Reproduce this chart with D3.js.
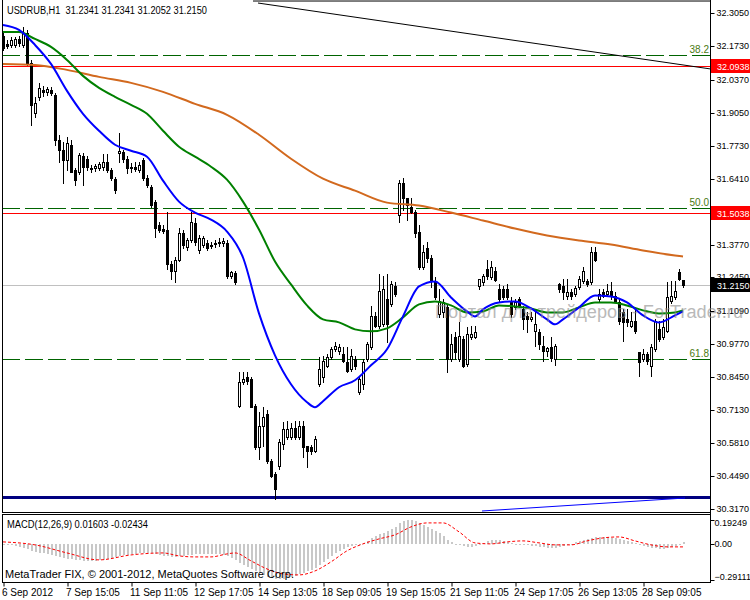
<!DOCTYPE html>
<html><head><meta charset="utf-8">
<script src="https://cdn.jsdelivr.net/npm/d3@7"></script>
<style>body{margin:0;background:#fff}svg{display:block}text{font-family:"Liberation Sans",Arial,sans-serif}</style>
</head><body><svg id="c" width="750" height="600"></svg>
<script>
// ---------- DATA ----------
const opens=[32.213,32.181,32.177,32.177,32.201,32.177,32.225,32.105,31.905,31.969,
31.997,31.989,31.997,31.977,31.797,31.757,31.717,31.777,31.677,31.669,
31.733,31.721,31.685,31.685,31.685,31.689,31.709,31.677,31.641,31.745,
31.749,31.721,31.685,31.689,31.677,31.717,31.645,31.609,31.549,31.457,
31.441,31.437,31.297,31.269,31.317,31.425,31.369,31.397,31.465,31.357,
31.377,31.385,31.373,31.381,31.385,31.385,31.385,31.249,31.261,30.729,
30.825,30.845,30.837,30.729,30.565,30.649,30.697,30.509,30.457,30.489,
30.577,30.605,30.605,30.641,30.605,30.649,30.569,30.565,30.549,30.817,
30.845,30.889,30.925,30.957,30.949,30.937,30.905,30.877,30.917,30.785,
30.817,30.917,30.965,31.089,31.049,31.057,31.157,31.137,31.209,31.497,
31.625,31.565,31.529,31.509,31.429,31.285,31.365,31.325,31.229,31.097,
31.105,31.125,30.917,31.005,30.917,30.997,30.897,31.005,31.005,31.209,
31.225,31.277,31.245,31.269,31.197,31.197,31.197,31.149,31.125,31.157,
31.117,31.089,31.077,31.029,31.025,30.969,30.949,30.965,30.917,31.217,
31.209,31.169,31.185,31.177,31.205,31.229,31.229,31.225,31.349,31.157,
31.185,31.177,31.189,31.169,31.145,31.105,31.077,31.049,31.069,30.945,
30.917,30.937,30.889,30.957,31.037,31.005,31.029,31.149,31.165,31.265,
31.2341];
const highs=[32.225,32.197,32.209,32.209,32.213,32.249,32.237,32.117,31.969,32.025,
32.013,32.009,32.009,31.985,31.817,31.789,31.809,31.797,31.685,31.745,
31.745,31.733,31.697,31.701,31.709,31.741,31.741,31.685,31.649,31.825,
31.757,31.733,31.705,31.709,31.709,31.725,31.657,31.617,31.557,31.469,
31.457,31.509,31.309,31.329,31.445,31.437,31.405,31.509,31.485,31.417,
31.413,31.397,31.389,31.397,31.405,31.405,31.397,31.269,31.269,30.865,
30.865,30.865,30.845,30.737,30.705,30.725,30.713,30.517,30.465,30.597,
30.665,30.669,30.661,30.669,30.669,30.669,30.569,30.573,30.609,30.925,
30.929,30.937,30.965,30.985,30.977,30.965,30.965,30.957,30.929,30.845,
30.917,30.985,31.129,31.105,31.257,31.249,31.257,31.229,31.225,31.637,
31.645,31.565,31.565,31.517,31.457,31.377,31.389,31.337,31.245,31.197,
31.157,31.137,31.017,31.025,31.065,31.009,31.045,31.049,31.049,31.237,
31.257,31.317,31.309,31.285,31.217,31.209,31.217,31.165,31.157,31.165,
31.129,31.105,31.105,31.105,31.037,31.009,30.965,31.005,30.977,31.221,
31.237,31.237,31.197,31.209,31.249,31.285,31.237,31.369,31.369,31.197,
31.197,31.217,31.225,31.185,31.157,31.117,31.117,31.105,31.117,30.945,
30.957,30.945,30.977,31.077,31.069,31.077,31.225,31.229,31.229,31.277,
31.2341];
const lows=[32.157,32.165,32.169,32.169,32.173,32.169,32.097,31.857,31.889,31.957,
31.973,31.977,31.977,31.777,31.709,31.625,31.677,31.669,31.617,31.661,
31.617,31.677,31.669,31.673,31.677,31.677,31.669,31.637,31.585,31.709,
31.709,31.665,31.669,31.673,31.669,31.637,31.609,31.529,31.409,31.429,
31.425,31.277,31.237,31.225,31.309,31.365,31.357,31.389,31.377,31.345,
31.369,31.357,31.365,31.369,31.373,31.373,31.241,31.241,31.217,30.725,
30.817,30.817,30.725,30.557,30.517,30.569,30.501,30.445,30.357,30.477,
30.557,30.597,30.597,30.597,30.597,30.525,30.485,30.537,30.545,30.809,
30.825,30.885,30.917,30.949,30.937,30.905,30.865,30.869,30.877,30.777,
30.797,30.909,30.957,31.045,31.041,31.049,30.985,31.129,31.169,31.469,
31.517,31.477,31.505,31.409,31.277,31.277,31.305,31.205,31.157,31.085,
31.085,30.865,30.909,30.917,30.909,30.885,30.889,30.997,31.001,31.197,
31.213,31.237,31.237,31.229,31.149,31.157,31.157,31.085,31.117,31.125,
31.037,31.025,31.069,30.969,30.957,30.909,30.929,30.909,30.893,31.185,
31.157,31.157,31.157,31.169,31.197,31.221,31.209,31.217,31.309,31.145,
31.165,31.169,31.157,31.145,31.057,30.989,31.049,31.045,31.021,30.849,
30.909,30.897,30.849,30.949,30.989,30.997,31.025,31.141,31.157,31.233,
31.2052];
const closes=[32.165,32.173,32.197,32.201,32.185,32.225,32.105,31.937,31.945,32.005,
31.989,32.001,31.985,31.797,31.757,31.717,31.785,31.669,31.637,31.737,
31.689,31.689,31.681,31.693,31.701,31.709,31.677,31.645,31.597,31.753,
31.721,31.685,31.689,31.681,31.697,31.645,31.617,31.537,31.445,31.437,
31.433,31.297,31.269,31.317,31.425,31.377,31.397,31.469,31.389,31.405,
31.405,31.365,31.377,31.385,31.389,31.393,31.249,31.265,31.225,30.825,
30.837,30.829,30.725,30.565,30.649,30.685,30.509,30.449,30.397,30.585,
30.637,30.637,30.641,30.605,30.649,30.565,30.549,30.549,30.597,30.877,
30.909,30.925,30.957,30.969,30.965,30.909,30.869,30.929,30.889,30.837,
30.905,30.977,31.089,31.049,31.189,31.197,31.057,31.217,31.177,31.625,
31.565,31.537,31.509,31.425,31.285,31.349,31.325,31.229,31.165,31.149,
31.145,30.917,30.977,30.945,31.009,30.889,31.017,31.017,31.025,31.237,
31.249,31.249,31.285,31.233,31.157,31.165,31.165,31.097,31.145,31.129,
31.077,31.077,31.085,31.057,30.977,30.949,30.961,30.921,30.969,31.197,
31.185,31.185,31.169,31.201,31.237,31.269,31.217,31.349,31.317,31.177,
31.169,31.189,31.169,31.149,31.069,31.065,31.065,31.069,31.029,30.905,
30.937,30.909,30.965,31.069,30.997,31.045,31.165,31.169,31.189,31.237,
31.2150];

const blueIdx=[0,4,8,12,16,20,24,28,32,36,40,44,48,52,56,60,64,68,72,76,78,80,84,88,92,96,100,104,108,112,116,118,120,124,128,132,136,138,140,144,148,152,156,160,164,168,170];
const blueVal=[32.257,32.237,32.177,32.101,31.993,31.901,31.833,31.777,31.753,31.729,31.633,31.549,31.505,31.477,31.429,31.325,31.101,30.933,30.817,30.745,30.725,30.749,30.805,30.833,30.893,30.957,31.089,31.209,31.229,31.165,31.109,31.089,31.117,31.145,31.149,31.121,31.077,31.057,31.077,31.125,31.173,31.169,31.145,31.093,31.065,31.093,31.109];
const greenIdx=[0,4,8,12,16,20,24,28,32,36,40,44,48,52,56,60,64,68,72,76,80,84,88,92,96,100,104,108,112,116,120,124,128,132,136,140,144,148,152,156,160,164,168,170];
const greenVal=[32.229,32.229,32.201,32.169,32.117,32.053,32.005,31.969,31.937,31.901,31.833,31.769,31.729,31.689,31.637,31.549,31.437,31.309,31.217,31.133,31.077,31.065,31.037,31.029,31.041,31.085,31.137,31.149,31.133,31.105,31.109,31.133,31.129,31.121,31.105,31.105,31.125,31.145,31.145,31.133,31.113,31.101,31.105,31.113];
const orangeIdx=[0,8,16,24,32,40,48,56,64,72,80,88,96,104,112,120,128,136,144,152,160,168,170];
const orangeVal=[32.101,32.097,32.077,32.049,32.025,31.989,31.941,31.897,31.817,31.721,31.641,31.593,31.545,31.533,31.505,31.473,31.441,31.413,31.393,31.377,31.353,31.333,31.329];

const macdHist=[-0.005,-0.008,-0.010,-0.015,-0.024,-0.032,-0.040,-0.056,-0.065,-0.073,
-0.075,-0.081,-0.089,-0.097,-0.105,-0.113,-0.121,-0.123,-0.129,-0.131,
-0.137,-0.138,-0.139,-0.137,-0.131,-0.128,-0.121,-0.113,-0.105,-0.097,
-0.089,-0.090,-0.081,-0.080,-0.073,-0.072,-0.073,-0.075,-0.081,-0.089,
-0.097,-0.099,-0.105,-0.106,-0.097,-0.096,-0.089,-0.087,-0.081,-0.080,
-0.081,-0.082,-0.081,-0.082,-0.083,-0.089,-0.097,-0.113,-0.129,-0.153,
-0.169,-0.185,-0.202,-0.218,-0.234,-0.250,-0.266,-0.274,-0.282,-0.285,
-0.283,-0.276,-0.266,-0.258,-0.242,-0.234,-0.218,-0.210,-0.194,-0.169,
-0.145,-0.121,-0.097,-0.073,-0.056,-0.040,-0.024,-0.016,-0.008,0.000,
0.008,0.024,0.048,0.065,0.081,0.089,0.105,0.121,0.137,0.169,
0.185,0.192,0.190,0.183,0.169,0.153,0.137,0.121,0.105,0.089,
0.065,0.032,0.016,0.000,-0.008,-0.016,-0.024,-0.025,-0.016,0.000,
0.008,0.024,0.032,0.033,0.031,0.024,0.016,0.008,0.000,-0.002,
-0.008,-0.010,-0.016,-0.018,-0.024,-0.025,-0.032,-0.034,-0.032,-0.024,
-0.016,-0.008,0.000,0.016,0.024,0.032,0.040,0.048,0.056,0.057,
0.055,0.054,0.048,0.046,0.040,0.032,0.024,0.016,0.008,-0.008,
-0.016,-0.024,-0.032,-0.034,-0.040,-0.041,-0.032,-0.024,-0.016,0.000,
0.01603];
const sigIdx=[0,8,16,24,32,40,44,48,52,56,58,62,66,70,74,78,82,86,90,94,98,102,106,110,114,118,122,126,130,134,138,142,146,150,154,158,162,166,170];
const sigVal=[0.016,-0.008,-0.073,-0.129,-0.089,-0.073,-0.097,-0.105,-0.105,-0.081,-0.073,-0.137,-0.202,-0.242,-0.250,-0.218,-0.145,-0.056,0.000,0.040,0.073,0.137,0.169,0.169,0.097,0.008,0.000,0.016,0.024,0.008,-0.008,-0.008,0.024,0.048,0.056,0.024,-0.008,-0.024,-0.02434];

const priceTicks=[32.305,32.173,32.037,31.905,31.773,31.641,31.377,31.245,31.109,30.977,30.845,30.713,30.581,30.449,30.317];
const macdTicks=[0.19249,0,-0.29111];
const dateTickIdx=[0,16,32,48,64,80,96,112,128,144,160];
const dateLabels=["6 Sep 2012","7 Sep 15:05","11 Sep 11:05","12 Sep 17:05","14 Sep 13:05","18 Sep 09:05","19 Sep 15:05","21 Sep 11:05","24 Sep 17:05","26 Sep 13:05","28 Sep 09:05"];
const fibNames=["38.2","50.0","61.8"];
const fibPrices=[32.137,31.525,30.917];
const redLevels=[32.0938,31.5038];
const supportLevel=30.365;
const lastPrice=31.2150;
const trendBlackIdx=[63.75,176.75], trendBlackVal=[32.345,32.081];
const topLineIdx=[62.5,177], topLineVal=[32.353,32.353];
const trendBlueIdx=[119.75,170.5], trendBlueVal=[30.309,30.361];
const titleText="USDRUB,H1  31.2341 31.2341 31.2052 31.2150";
const macdText="MACD(12,26,9) 0.01603 -0.02434";
const copyText="MetaTrader FIX, \u00A9 2001-2012, MetaQuotes Software Corp.";
const watermark="Портал для трейдеров - ForTrader.ru";

// ---------- LAYOUT ----------
const svg=d3.select("#c");
const L=2,R=710,mainB=512,macdT=514,macdB=582;
const x=d3.scaleLinear().domain([0,170]).range([3,683]);
const y=d3.scaleLinear().domain([30.317,32.305]).range([509,13]);
const ym=d3.scaleLinear().domain([-0.29111,0.19249]).range([580,520]);
const defs=svg.append("defs");
defs.append("clipPath").attr("id","cm").append("rect").attr("x",L).attr("y",0).attr("width",R-L).attr("height",mainB);
defs.append("clipPath").attr("id","cd").append("rect").attr("x",L).attr("y",macdT).attr("width",R-L).attr("height",macdB-macdT);
const py=v=>Math.round(y(v))+0.5;

const g=svg.append("g").attr("clip-path","url(#cm)");
g.selectAll(".fib").data(fibPrices).join("line").attr("x1",L).attr("x2",R)
 .attr("y1",d=>py(d)).attr("y2",d=>py(d)).attr("stroke","#006400").attr("stroke-dasharray","18,5");
g.selectAll(".red").data(redLevels).join("line").attr("x1",L).attr("x2",R)
 .attr("y1",d=>py(d)).attr("y2",d=>py(d)).attr("stroke","#ff0000");
g.append("line").attr("x1",L).attr("x2",R).attr("y1",py(lastPrice)).attr("y2",py(lastPrice)).attr("stroke","#c0c0c0");
g.append("line").attr("x1",L).attr("x2",R).attr("y1",py(supportLevel)).attr("y2",py(supportLevel)).attr("stroke","#000080").attr("stroke-width",3);

const bars=opens.map((o,i)=>({i,o,h:highs[i],l:lows[i],c:closes[i]}));
const cg=g.append("g");
cg.selectAll("line").data(bars).join("line")
 .attr("x1",d=>x(d.i)+0.5).attr("x2",d=>x(d.i)+0.5)
 .attr("y1",d=>Math.round(y(d.h))).attr("y2",d=>Math.round(y(d.l))+1).attr("stroke","#000");
cg.selectAll("rect").data(bars).join("rect")
 .each(function(d){
   const yo=Math.round(y(d.o)),yc=Math.round(y(d.c));
   const t=Math.min(yo,yc),b=Math.max(yo,yc);
   const s=d3.select(this);
   if(d.c>=d.o){s.attr("x",x(d.i)-0.5).attr("y",t+0.5).attr("width",2).attr("height",Math.max(b-t,1)).attr("fill","#fff").attr("stroke","#000");}
   else{s.attr("x",x(d.i)-1).attr("y",t).attr("width",3).attr("height",Math.max(b-t+1,1)).attr("fill","#000");}
 });

const ln=d3.line().x(d=>x(d[0])).y(d=>y(d[1])).curve(d3.curveMonotoneX);
const zip=(a,b)=>a.map((v,i)=>[v,b[i]]);
g.append("path").attr("d",ln(zip(orangeIdx,orangeVal))).attr("fill","none").attr("stroke","#d2691e").attr("stroke-width",2);
g.append("path").attr("d",ln(zip(greenIdx,greenVal))).attr("fill","none").attr("stroke","#008000").attr("stroke-width",2);
g.append("path").attr("d",ln(zip(blueIdx,blueVal))).attr("fill","none").attr("stroke","#0000ff").attr("stroke-width",2);

const sl=d3.line().x(d=>x(d[0])).y(d=>y(d[1]));
g.append("path").attr("d",sl(zip(trendBlackIdx,trendBlackVal))).attr("stroke","#000").attr("fill","none");
g.append("path").attr("d",sl(zip(topLineIdx,topLineVal))).attr("stroke","#000").attr("fill","none");
g.append("path").attr("d",sl(zip(trendBlueIdx,trendBlueVal))).attr("stroke","#0000ff").attr("fill","none");

g.selectAll(".fl").data(fibPrices).join("text").attr("x",R-1).attr("y",d=>py(d)-3)
 .attr("text-anchor","end").attr("font-size",10).attr("fill","#4a7a10").text((d,i)=>fibNames[i]);

const fr=svg.append("g").attr("stroke","#000").attr("fill","none");
fr.append("line").attr("x1",L+0.5).attr("x2",L+0.5).attr("y1",0).attr("y2",mainB);
fr.append("line").attr("x1",L+0.5).attr("x2",L+0.5).attr("y1",macdT).attr("y2",macdB);
fr.append("line").attr("x1",R+0.5).attr("x2",R+0.5).attr("y1",0).attr("y2",macdB+1);
fr.append("line").attr("x1",L).attr("x2",R).attr("y1",mainB+0.5).attr("y2",mainB+0.5);
fr.append("line").attr("x1",L).attr("x2",R).attr("y1",macdT+0.5).attr("y2",macdT+0.5);
fr.append("line").attr("x1",L).attr("x2",R).attr("y1",macdB+0.5).attr("y2",macdB+0.5);

const ax=svg.append("g").attr("transform",`translate(${R+0.5},0.5)`)
 .call(d3.axisRight(y).tickValues(priceTicks).tickFormat(d3.format(".4f")).tickSize(4).tickPadding(2));
ax.select(".domain").remove();
ax.selectAll("text").attr("font-size",9).attr("font-family","Liberation Sans, Arial, sans-serif").attr("fill","#000");
ax.selectAll("line").attr("stroke","#000");
ax.selectAll(".tick").attr("transform",d=>`translate(0,${Math.round(y(d))})`);

const boxes=[{v:redLevels[0],c:"#ff0000"},{v:redLevels[1],c:"#ff0000"},{v:lastPrice,c:"#000"}];
const bx=svg.append("g");
bx.selectAll("rect").data(boxes).join("rect").attr("x",R+1).attr("y",d=>Math.round(y(d.v))-7).attr("width",39).attr("height",14).attr("fill",d=>d.c);
bx.selectAll("text").data(boxes).join("text").attr("x",R+7).attr("y",d=>Math.round(y(d.v))+4)
 .attr("font-size",9).attr("fill","#fff").text(d=>d3.format(".4f")(d.v));

const mg=svg.append("g").attr("clip-path","url(#cd)");
mg.selectAll("rect").data(macdHist).join("rect")
 .attr("x",(d,i)=>x(i)).attr("width",2)
 .attr("y",d=>Math.round(Math.min(ym(d),ym(0)))).attr("height",d=>Math.max(1,Math.round(Math.abs(ym(d)-ym(0)))))
 .attr("fill","#c8c8c8");
mg.append("path").attr("d",d3.line().x(d=>x(d[0])).y(d=>ym(d[1])).curve(d3.curveMonotoneX)(zip(sigIdx,sigVal)))
 .attr("fill","none").attr("stroke","#ff0000").attr("stroke-dasharray","3,2");
const mt=svg.append("g").attr("transform",`translate(${R+0.5},0)`);
const mtOff=[2,0,-4];
mt.selectAll("line").data(macdTicks).join("line").attr("x1",0).attr("x2",4)
 .attr("y1",d=>Math.round(ym(d))+0.5).attr("y2",d=>Math.round(ym(d))+0.5).attr("stroke","#000");
mt.selectAll("text").data(macdTicks).join("text").attr("x",4).attr("y",(d,i)=>ym(d)+mtOff[i]+3.5)
 .attr("font-size",9).text(d=>d===0?"0.00":d3.format(".5f")(d));

const dx=svg.append("g").attr("transform",`translate(0.5,${macdB+0.5})`)
 .call(d3.axisBottom(x).tickValues(dateTickIdx).tickFormat((d,i)=>dateLabels[i]).tickSize(4).tickPadding(2));
dx.select(".domain").remove();
dx.selectAll("line").attr("stroke","#000");
dx.selectAll("text").attr("font-size",10).attr("font-family","Liberation Sans, Arial, sans-serif").attr("text-anchor","start").attr("x",-2).attr("dy","0.75em").attr("fill","#000");

svg.append("text").attr("x",7).attr("y",14).attr("font-size",10).style("white-space","pre")
 .attr("textLength",200).attr("lengthAdjust","spacingAndGlyphs").text(titleText);
svg.append("text").attr("x",7).attr("y",528).attr("font-size",10)
 .attr("textLength",141).attr("lengthAdjust","spacingAndGlyphs").text(macdText);
svg.append("text").attr("x",5).attr("y",578).attr("font-size",11).text(copyText);
svg.append("text").attr("x",435).attr("y",318).attr("font-size",18).attr("fill","#8c8c8c").attr("opacity",0.6)
 .attr("textLength",308).attr("lengthAdjust","spacingAndGlyphs").text(watermark);
</script></body></html>
